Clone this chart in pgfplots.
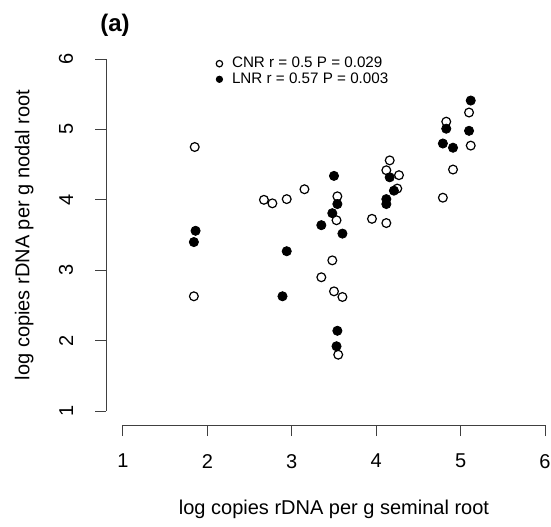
\documentclass[border=0pt]{standalone}
\usepackage{pgfplots}
\pgfplotsset{compat=1.18}
\usepackage{fontspec}
\setmainfont{Liberation Sans}
\begin{document}
\begin{tikzpicture}
\begin{axis}[
  scale only axis,
  width=227.9pt, height=190.1pt,
  xmin=0.8, xmax=6.2, ymin=0.8, ymax=6.2,
  axis x line*=bottom, axis y line*=left,
  axis line style={draw=none},
  xtick={1,2,3,4,5,6}, ytick={1,2,3,4,5,6},
  tick align=outside,
  major tick length=5.5pt,
  tick style={black!75, line width=0.5pt},
  /pgf/number format/assume math mode=true,
  ticklabel style={font=\fontsize{10}{12}\selectfont},
  xticklabel style={anchor=north, yshift=-5.5pt},
  yticklabel style={rotate=90, anchor=south, yshift=7.5pt},
  clip=false,
  legend style={at={(axis cs:2.10,6.07)}, anchor=north west, draw=none, fill=none,
    font=\fontsize{7.6}{8}\selectfont, inner sep=0pt, row sep=-1.4pt,
    nodes={inner sep=1.2pt},
    /tikz/every odd column/.append style={column sep=3.5pt}},
  legend cell align=left,
  legend image post style={mark size=1.6pt},
]
\addplot[only marks, mark=o, mark size=2.2pt, mark options={draw=black, fill=white, line width=0.6pt}] table {
x y
1.85 4.75
3.15 4.15
3.54 4.05
2.67 4.00
2.77 3.95
2.94 4.01
3.53 3.71
3.48 3.14
3.35 2.90
3.50 2.70
3.60 2.62
1.84 2.63
5.10 5.24
4.83 5.11
5.12 4.77
4.91 4.43
4.79 4.03
4.16 4.56
4.12 4.42
4.27 4.35
4.25 4.16
3.95 3.73
4.12 3.67
3.55 1.80
};
\addlegendentry{CNR r = 0.5 P = 0.029}
\addplot[only marks, mark=*, mark size=2.3pt, mark options={draw=black, fill=black}] table {
x y
3.50 4.34
3.54 3.94
3.48 3.81
3.35 3.64
3.60 3.52
1.86 3.56
1.84 3.40
2.94 3.27
2.89 2.63
5.12 5.41
4.83 5.01
5.10 4.98
4.79 4.80
4.91 4.74
4.16 4.32
4.21 4.13
4.12 4.01
4.12 3.94
3.54 2.14
3.53 1.92
};
\addlegendentry{LNR r = 0.57 P = 0.003}
\draw[black!75, line width=0.5pt] (axis cs:1,0.8) -- (axis cs:6,0.8);
\draw[black!75, line width=0.5pt] (axis cs:0.8,1) -- (axis cs:0.8,6);
\node[font=\fontsize{10}{12}\selectfont, anchor=base] at (axis cs:3.5,-0.463) {log copies rDNA per g seminal root};
\node[font=\fontsize{10}{12}\selectfont, anchor=base, rotate=90] at (axis cs:-0.108,3.5) {log copies rDNA per g nodal root};
\node[font=\bfseries\fontsize{12}{14}\selectfont] at (axis cs:0.905,6.483) {(a)};
\coordinate (bbll) at (axis cs:-0.457,-0.634);
\coordinate (bbur) at (axis cs:6.071,6.838);
\end{axis}
\pgfresetboundingbox
\path[use as bounding box] (bbll) rectangle (bbur);
\end{tikzpicture}
\end{document}
